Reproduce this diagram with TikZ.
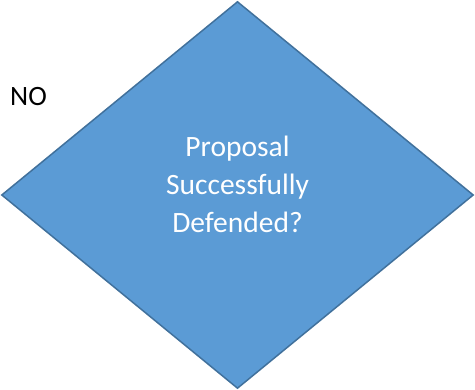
\documentclass[tikz,border=0pt]{standalone}
\usepackage{fontspec}
\setmainfont{Carlito}
\usetikzlibrary{shapes.geometric}
\definecolor{officeblue}{HTML}{5B9BD5}
\definecolor{officeedge}{HTML}{41719C}
\tikzset{
    decision/.style={diamond,draw=officeedge,fill=officeblue,line width=1.5pt,
        minimum width=472pt,minimum height=387pt,inner sep=0pt},
    question/.style={text=white,align=center,inner sep=0pt,
        font=\fontsize{29.5}{38}\selectfont},
    answer/.style={text=black,inner sep=0pt,font=\fontsize{28}{34}\selectfont}
}
\begin{document}
\begin{tikzpicture}[x=1pt,y=-1pt]
                \useasboundingbox (0,0) rectangle (475,390);
                \node[decision] (defended) at (237.5,195) {};
                \node[question] (defendedtext) at (237.5,184) {Proposal\\Successfully\\Defended?};
                \node[answer,anchor=base west] (no) at (10,106) {NO};
            \end{tikzpicture}
\end{document}
